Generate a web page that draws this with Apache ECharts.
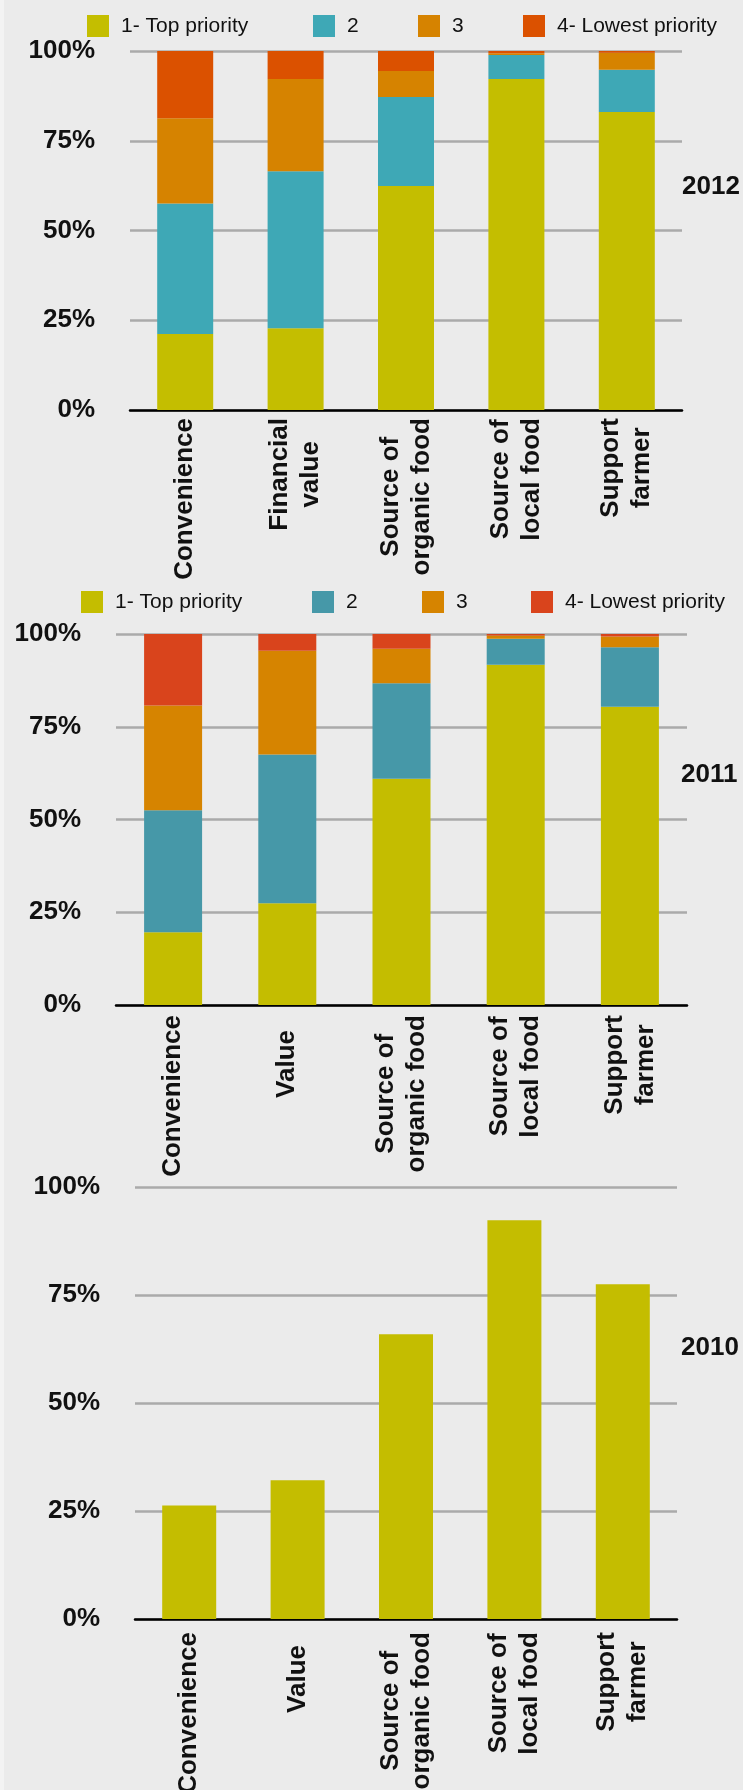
<!DOCTYPE html>
<html>
<head>
<meta charset="utf-8">
<script src="https://cdn.jsdelivr.net/npm/echarts@6/dist/echarts.min.js"></script>
<style>
  html, body { margin: 0; padding: 0; background: #ebebeb; }
  #chart { width: 743px; height: 1790px; }
</style>
</head>
<body>
<div id="chart"></div>
<script>
// Priority levels (legend entries)
const priorities = ['1- Top priority', '2', '3', '4- Lowest priority'];

// Category labels per survey year
const categories2012 = ['Convenience', 'Financial\nvalue', 'Source of\norganic food', 'Source of\nlocal food', 'Support\nfarmer'];
const categories2011 = ['Convenience', 'Value', 'Source of\norganic food', 'Source of\nlocal food', 'Support\nfarmer'];
const categories2010 = ['Convenience', 'Value', 'Source of\norganic food', 'Source of\nlocal food', 'Support\nfarmer'];

// 2012 shares (%) by priority
const top2012    = [21.2, 22.8, 62.4, 92.2, 83.0];
const second2012 = [36.3, 43.7, 24.8, 6.7, 11.8];
const third2012  = [23.8, 25.7, 7.2, 0.5, 4.7];
const lowest2012 = [18.7, 7.8, 5.6, 0.6, 0.5];

// 2011 shares (%) by priority
const top2011    = [19.6, 27.4, 61.0, 91.7, 80.4];
const second2011 = [32.9, 40.1, 25.7, 7.0, 16.0];
const third2011  = [28.2, 28.0, 9.3, 0.9, 2.9];
const lowest2011 = [19.3, 4.5, 4.0, 0.4, 0.7];

// 2010: top priority only
const top2010 = [26.3, 32.1, 65.9, 92.3, 77.5];

// Value-axis ticks (%)
const percentTicks = [0, 25, 50, 75, 100];

const colors2012 = ['#c4be00', '#3ea8b6', '#d68300', '#db5100'];
const colors2011 = ['#c4bd00', '#4698a8', '#d68400', '#d9441c'];

const FONT = '"Liberation Sans", Arial, Helvetica, sans-serif';
const TEXT = '#111111';

function valueAxis(gridIndex) {
  return {
    type: 'value',
    gridIndex,
    min: percentTicks[0],
    max: percentTicks[percentTicks.length - 1],
    interval: percentTicks[1] - percentTicks[0],
    axisLine: { show: false },
    axisTick: { show: false },
    axisLabel: {
      formatter: '{value}%', fontSize: 26, fontWeight: 'bold',
      fontFamily: FONT, color: TEXT, margin: 35
    },
    splitLine: { lineStyle: { color: '#aaaaaa', width: 2.5 } }
  };
}

function categoryAxis(gridIndex, cats, margin, nudges) {
  return {
    type: 'category',
    gridIndex,
    data: cats.map((c, i) => nudges[i] ? { value: c, textStyle: { padding: [0, nudges[i], 0, 0] } } : c),
    axisLine: { lineStyle: { color: '#000000', width: 2.5 } },
    axisTick: { show: false },
    splitLine: { show: false },
    axisLabel: {
      interval: 0, rotate: 90, margin,
      fontSize: 26, fontWeight: 'bold', fontFamily: FONT, color: TEXT, lineHeight: 31,
      formatter: v => v.split('\n').map(line => '{c|' + line + '}').join('\n'),
      rich: {
        c: { align: 'center', fontSize: 26, fontWeight: 'bold', fontFamily: FONT, lineHeight: 31, color: TEXT }
      }
    }
  };
}

function bar(name, values, color, axisIndex, width, stack) {
  return {
    type: 'bar', name, data: values, stack,
    xAxisIndex: axisIndex, yAxisIndex: axisIndex,
    barWidth: width,
    itemStyle: { color },
    emphasis: { disabled: true }
  };
}

function legendItem(name, color, left, top) {
  return {
    data: [{ name, itemStyle: { color } }],
    left, top, padding: 0,
    icon: 'rect', itemWidth: 22, itemHeight: 22,
    selectedMode: false,
    textStyle: { fontSize: 21, fontFamily: FONT, color: TEXT, padding: [0, 0, 0, 7] }
  };
}

const legend2012Left = [87, 313, 418, 523];
const legend2011Left = [81, 312, 422, 531];

const option = {
  backgroundColor: '#ebebeb',
  animation: false,
  grid: [
    { left: 130, top: 51, width: 552, height: 359, outerBoundsMode: 'none' },
    { left: 116, top: 634, width: 571, height: 371, outerBoundsMode: 'none' },
    { left: 135, top: 1187, width: 542, height: 432, outerBoundsMode: 'none' }
  ],
  xAxis: [
    categoryAxis(0, categories2012, 8, [0, 0, 0, 0, 0]),
    categoryAxis(1, categories2011, 10, [0, 15, 0, 0, 0]),
    categoryAxis(2, categories2010, 13, [0, 13, 0, 0, 0])
  ],
  yAxis: [valueAxis(0), valueAxis(1), valueAxis(2)],
  legend: [
    ...priorities.map((p, i) => legendItem(p, colors2012[i], legend2012Left[i], 15)),
    ...priorities.map((p, i) => legendItem(p, colors2011[i], legend2011Left[i], 591))
  ],
  graphic: [
    { type: 'rect', left: 0, top: 0, shape: { width: 4, height: 1790 }, style: { fill: '#f3f3f3' }, z: -1 },
    { type: 'text', x: 682, y: 187, style: { text: '2012', font: 'bold 26px ' + FONT, fill: TEXT, textVerticalAlign: 'middle' } },
    { type: 'text', x: 681, y: 775, style: { text: '2011', font: 'bold 26px ' + FONT, fill: TEXT, textVerticalAlign: 'middle' } },
    { type: 'text', x: 681, y: 1348, style: { text: '2010', font: 'bold 26px ' + FONT, fill: TEXT, textVerticalAlign: 'middle' } }
  ],
  series: [
    bar(priorities[0], top2012, colors2012[0], 0, 56, 'y2012'),
    bar(priorities[1], second2012, colors2012[1], 0, 56, 'y2012'),
    bar(priorities[2], third2012, colors2012[2], 0, 56, 'y2012'),
    bar(priorities[3], lowest2012, colors2012[3], 0, 56, 'y2012'),
    bar(priorities[0], top2011, colors2011[0], 1, 58, 'y2011'),
    bar(priorities[1], second2011, colors2011[1], 1, 58, 'y2011'),
    bar(priorities[2], third2011, colors2011[2], 1, 58, 'y2011'),
    bar(priorities[3], lowest2011, colors2011[3], 1, 58, 'y2011'),
    bar(priorities[0], top2010, colors2011[0], 2, 54, 'y2010')
  ]
};

const chart = echarts.init(document.getElementById('chart'), null, { renderer: 'canvas', width: 743, height: 1790 });
chart.setOption(option);
</script>
</body>
</html>
